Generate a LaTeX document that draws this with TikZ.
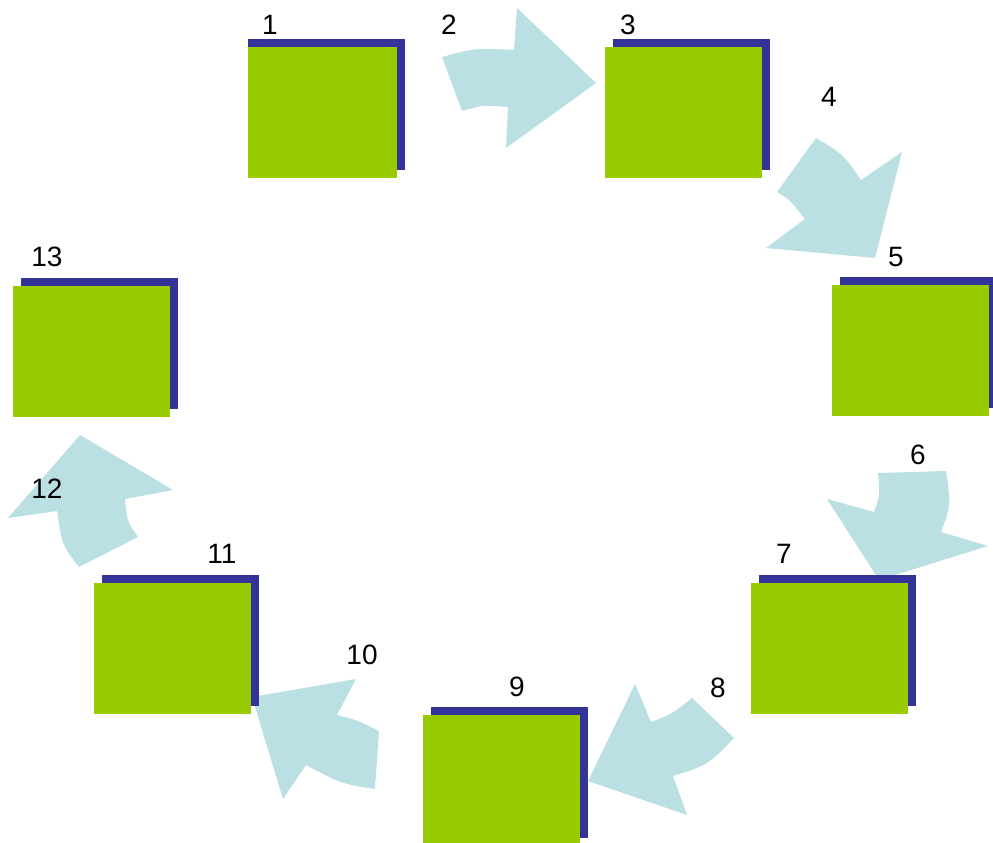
\documentclass[tikz,border=0pt]{standalone}
\usepackage{fontspec}
\setmainfont{Liberation Sans}
\definecolor{boxgreen}{HTML}{99CC00}
\definecolor{boxblue}{HTML}{333399}
\definecolor{arrowcol}{HTML}{BBE0E3}
\begin{document}
\begin{tikzpicture}[x=1pt,y=-1pt,
  blk/.style={fill=arrowcol},
  gbox/.style={fill=boxgreen, inner sep=0pt, outer sep=0pt, minimum width=157pt, minimum height=131pt, anchor=north west},
  bbox/.style={fill=boxblue, inner sep=0pt, outer sep=0pt, minimum width=157pt, minimum height=131pt, anchor=north west},
  lbl/.style={font=\fontsize{28}{30}\selectfont, inner sep=0pt, anchor=center}]
\useasboundingbox (0,0) rectangle (993,843);
% arrows
\fill[blk] (442,57) .. controls (475,48) .. (514,50) -- (517,8) -- (596,83) -- (506,148) -- (508,107) .. controls (483,105) .. (462,111) -- cycle;
\fill[blk] (816,138) .. controls (843,154) .. (861,180) -- (902,152) -- (875,258) -- (766,248) -- (805,219) .. controls (789,199) .. (777,192) -- cycle;
\fill[blk] (878,473) -- (946,471) .. controls (951,505) .. (941,532) -- (988,546) -- (879,580) -- (827,499) -- (874,512) .. controls (880,495) .. cycle;
\fill[blk] (692,698) -- (734,738) .. controls (708,765) .. (673,776) -- (687,815) -- (588,781) -- (635,684) -- (651,722) .. controls (672,714) .. cycle;
\fill[blk] (379,731) -- (375,789) .. controls (342,784) .. (306,765) -- (283,799) -- (252,697) -- (356,679) -- (337,715) .. controls (357,720) .. cycle;
\fill[blk] (79,567) -- (138,537) .. controls (127,521) .. (125,499) -- (173,490) -- (80,435) -- (8,518) -- (57,511) .. controls (62,545) .. cycle;
% boxes
\node[bbox] (s1) at (248,39) {};
\node[gbox, minimum width=149pt] (b1) at (248,47) {};
\node[bbox] (s3) at (613,39) {};
\node[gbox] (b3) at (605,47) {};
\node[bbox] (s5) at (840,277) {};
\node[gbox] (b5) at (832,285) {};
\node[bbox] (s7) at (759,575) {};
\node[gbox] (b7) at (751,583) {};
\node[bbox] (s9) at (431,707) {};
\node[gbox] (b9) at (423,715) {};
\node[bbox] (s11) at (102,575) {};
\node[gbox] (b11) at (94,583) {};
\node[bbox] (s13) at (21,278) {};
\node[gbox] (b13) at (13,286) {};
% labels
\node[lbl] (l1) at (270,25) {1};
\node[lbl] (l2) at (449,25) {2};
\node[lbl] (l3) at (628,25) {3};
\node[lbl] (l4) at (829,97) {4};
\node[lbl] (l5) at (896,257) {5};
\node[lbl] (l6) at (918,455) {6};
\node[lbl] (l7) at (784,554) {7};
\node[lbl] (l8) at (718,688) {8};
\node[lbl] (l9) at (517,687) {9};
\node[lbl] (l10) at (362,655) {10};
\node[lbl] (l11) at (222,554) {11};
\node[lbl] (l12) at (47,489) {12};
\node[lbl] (l13) at (47,257) {13};
\end{tikzpicture}
\end{document}
